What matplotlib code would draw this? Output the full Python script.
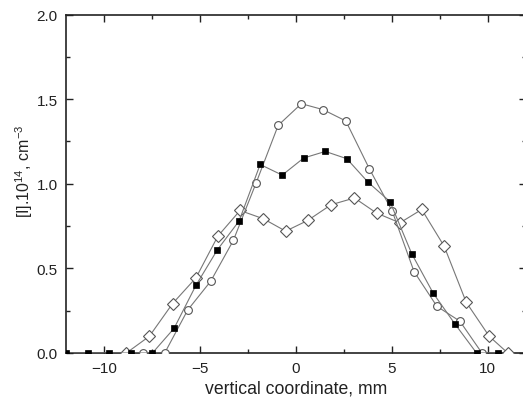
import matplotlib
matplotlib.use("Agg")
import matplotlib.pyplot as plt
from matplotlib.ticker import MultipleLocator, FormatStrFormatter

plt.rcParams['font.family'] = ['Liberation Sans', 'DejaVu Sans']
plt.rcParams['mathtext.fontset'] = 'custom'
plt.rcParams['mathtext.rm'] = 'Liberation Sans'
plt.rcParams['mathtext.it'] = 'Liberation Sans'

# filled squares
sq_x = [-12.0, -10.87, -9.76, -8.62, -7.49, -6.36, -5.22, -4.10, -2.97, -1.87, -0.72,
        0.40, 1.53, 2.65, 3.77, 4.90, 6.04, 7.16, 8.29, 9.42, 10.52]
sq_y = [0, 0, 0, 0, 0, 0.146, 0.40, 0.61, 0.78, 1.114, 1.051,
        1.152, 1.191, 1.148, 1.008, 0.895, 0.586, 0.353, 0.172, 0, 0]

# open circles
ci_x = [-7.98, -6.85, -5.65, -4.45, -3.27, -2.08, -0.93, 0.28, 1.41, 2.60,
        3.82, 5.02, 6.16, 7.35, 8.55, 9.70]
ci_y = [0, 0, 0.254, 0.424, 0.665, 1.005, 1.345, 1.473, 1.438, 1.371,
        1.090, 0.838, 0.481, 0.276, 0.188, 0]

# open diamonds
di_x = [-8.85, -7.65, -6.44, -5.22, -4.08, -2.92, -1.70, -0.54, 0.61, 1.83,
        3.05, 4.20, 5.42, 6.56, 7.73, 8.88, 10.08, 11.05]
di_y = [0, 0.099, 0.292, 0.444, 0.690, 0.842, 0.793, 0.720, 0.783, 0.876,
        0.916, 0.827, 0.769, 0.848, 0.631, 0.300, 0.099, 0]

fig = plt.figure(figsize=(5.23, 4.06), dpi=100)
ax = fig.add_axes([66/523, 52/406, (526-66)/523, (354-15.5)/406])

line_c = '#777777'
ax.plot(di_x, di_y, '-', color=line_c, lw=0.8, marker='D', ms=5.8, mfc='white',
        mec='#555555', mew=0.8, zorder=3)
ax.plot(ci_x, ci_y, '-', color=line_c, lw=0.8, marker='o', ms=5.6, mfc='white',
        mec='#555555', mew=0.8, zorder=3)
ax.plot(sq_x, sq_y, '-', color=line_c, lw=0.8, marker='s', ms=4.8, mfc='black',
        mec='black', mew=0.5, zorder=4)

ax.set_xlim(-12, 12)
ax.set_ylim(0, 2.0)
ax.xaxis.set_major_locator(MultipleLocator(5))
ax.xaxis.set_minor_locator(MultipleLocator(2.5))
ax.yaxis.set_major_locator(MultipleLocator(0.5))
ax.yaxis.set_minor_locator(MultipleLocator(0.25))
ax.yaxis.set_major_formatter(FormatStrFormatter('%.1f'))

ax.tick_params(which='both', direction='in', top=True, right=True,
               colors='#222222', labelsize=11, width=1.0)
ax.tick_params(which='major', length=5, pad=6)
ax.tick_params(which='minor', length=3)
for s in ax.spines.values():
    s.set_linewidth(1.2)
    s.set_color('#222222')

ax.set_xlabel('vertical coordinate, mm', fontsize=12.7, color='#222222', labelpad=3)
ax.set_ylabel(r'[I].10$^{14}$, cm$^{-3}$', fontsize=11.5, color='#222222')
ax.yaxis.set_label_coords(-0.068, 0.54)

fig.savefig('out.png', dpi=100)
